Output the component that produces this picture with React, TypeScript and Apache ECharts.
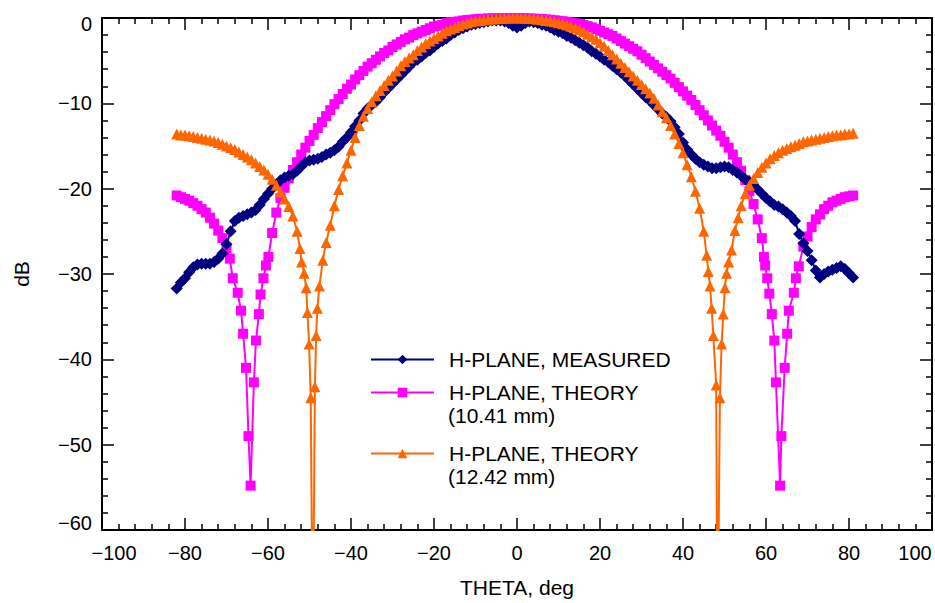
import React, { useEffect, useRef } from 'react';
import * as echarts from 'echarts';

const FONT = '"Liberation Sans", Arial, Helvetica, sans-serif';

const X_TICKS = { min: -100, max: 100, interval: 20 };
const Y_TICKS = { min: -60, max: 0, interval: 10 };

const NAME_MEASURED = 'H-PLANE, MEASURED';
const NAME_T1 = 'H-PLANE, THEORY (10.41 mm)';
const NAME_T2 = 'H-PLANE, THEORY (12.42 mm)';

// [theta deg, dB]
const measured: number[][] = [
  [-82,-31.7],[-81,-31.0],[-80,-30.5],[-79,-29.8],[-78,-29.2],[-77,-28.9],[-76,-28.8],[-75,-28.8],[-74,-28.8],[-73,-28.6],
  [-72,-28.2],[-71,-27.6],[-70,-26.5],[-69,-25.0],[-68,-23.8],[-67,-23.4],[-66,-23.2],[-65,-23.0],[-64,-22.8],[-63,-22.5],
  [-62,-21.9],[-61,-21.2],[-60,-20.6],[-59,-20.0],[-58,-19.5],[-57,-19.0],[-56,-18.7],[-55,-18.5],[-54,-18.3],[-53,-17.9],
  [-52,-17.4],[-51,-16.9],[-50,-16.7],[-49,-16.6],[-48,-16.5],[-47,-16.3],[-46,-16.0],[-45,-15.8],[-44,-15.5],[-43,-15.1],
  [-42,-14.5],[-41,-14.0],[-40,-13.4],[-39,-12.7],[-38,-12.0],[-37,-11.2],[-36,-10.6],[-35,-10.2],[-34,-9.8],[-33,-9.3],
  [-32,-8.7],[-31,-8.2],[-30,-7.7],[-29,-7.2],[-28,-6.7],[-27,-6.2],[-26,-5.7],[-25,-5.2],[-24,-4.9],[-23,-4.5],
  [-22,-4.1],[-21,-3.8],[-20,-3.4],[-19,-3.0],[-18,-2.7],[-17,-2.4],[-16,-2.0],[-15,-1.7],[-14,-1.4],[-13,-1.2],
  [-12,-1.0],[-11,-0.8],[-10,-0.7],[-9,-0.6],[-8,-0.5],[-7,-0.4],[-6,-0.3],[-5,-0.3],[-4,-0.3],[-3,-0.4],
  [-2,-0.6],[-1,-0.9],[0,-1.1],[1,-0.9],[2,-0.6],[3,-0.4],[4,-0.5],[5,-0.6],[6,-0.8],[7,-0.9],
  [8,-1.1],[9,-1.4],[10,-1.6],[11,-1.8],[12,-2.1],[13,-2.3],[14,-2.6],[15,-2.9],[16,-3.2],[17,-3.5],
  [18,-3.9],[19,-4.2],[20,-4.5],[21,-4.9],[22,-5.2],[23,-5.6],[24,-6.0],[25,-6.4],[26,-6.8],[27,-7.3],
  [28,-7.8],[29,-8.3],[30,-8.8],[31,-9.3],[32,-9.7],[33,-10.2],[34,-10.7],[35,-11.2],[36,-11.6],[37,-12.1],
  [38,-12.8],[39,-13.6],[40,-14.6],[41,-15.4],[42,-16.0],[43,-16.5],[44,-16.9],[45,-17.2],[46,-17.4],[47,-17.6],
  [48,-17.6],[49,-17.5],[50,-17.4],[51,-17.5],[52,-17.8],[53,-18.1],[54,-18.5],[55,-18.9],[56,-19.2],[57,-19.6],
  [58,-20.1],[59,-20.6],[60,-21.1],[61,-21.5],[62,-21.9],[63,-22.1],[64,-22.4],[65,-22.8],[66,-23.2],[67,-23.8],
  [68,-25.3],[69,-26.4],[70,-27.3],[71,-28.4],[72,-29.6],[73,-30.4],[74,-30.0],[75,-29.7],[76,-29.5],[77,-29.3],
  [78,-29.1],[79,-29.4],[80,-29.9],[81,-30.4],
];

const theory1041: number[][] = [
  [-82,-20.8],[-81,-21.0],[-80,-21.2],[-79,-21.4],[-78,-21.7],[-77,-22.0],[-76,-22.4],[-75,-22.8],[-74,-23.4],[-73,-24.1],
  [-72,-24.9],[-71,-25.8],[-70,-27.0],[-69.2,-28.2],[-68.5,-30.5],[-67.3,-32.2],[-66.5,-34.3],[-66.0,-37.0],[-65.3,-41.0],
  [-64.7,-49.0],[-64.2,-54.8],[-63.4,-42.7],[-62.9,-37.8],[-62.2,-34.7],[-61.8,-32.4],[-61.1,-30.5],[-60.5,-29.0],[-59.9,-28.0],
  [-59,-25.2],[-58,-22.8],[-57,-21.1],[-56,-19.9],[-55,-18.8],[-54,-17.8],[-53,-16.9],[-52,-16.0],[-51,-15.2],[-50,-14.4],
  [-49,-13.7],[-48,-12.9],[-47,-12.2],[-46,-11.5],[-45,-10.8],[-44,-10.1],[-43,-9.5],[-42,-8.9],[-41,-8.3],[-40,-7.8],
  [-39,-7.2],[-38,-6.7],[-37,-6.2],[-36,-5.7],[-35,-5.3],[-34,-4.9],[-33,-4.5],[-32,-4.1],[-31,-3.8],[-30,-3.4],
  [-29,-3.1],[-28,-2.8],[-27,-2.5],[-26,-2.3],[-25,-2.0],[-24,-1.8],[-23,-1.6],[-22,-1.4],[-21,-1.2],[-20,-1.0],
  [-19,-0.9],[-18,-0.8],[-17,-0.6],[-16,-0.5],[-15,-0.45],[-14,-0.4],[-13,-0.3],[-12,-0.25],[-11,-0.2],[-10,-0.15],
  [-9,-0.1],[-8,-0.1],[-7,-0.05],[-6,-0.05],[-5,-0.03],[-4,-0.02],[-3,-0.01],[-2,0],[-1,0],[0,-0.01],
  [1,-0.02],[2,-0.03],[3,-0.05],[4,-0.07],[5,-0.1],[6,-0.13],[7,-0.17],[8,-0.21],[9,-0.26],[10,-0.32],
  [11,-0.38],[12,-0.45],[13,-0.53],[14,-0.62],[15,-0.72],[16,-0.83],[17,-0.95],[18,-1.1],[19,-1.3],[20,-1.5],
  [21,-1.7],[22,-1.9],[23,-2.1],[24,-2.4],[25,-2.7],[26,-3.0],[27,-3.3],[28,-3.6],[29,-3.9],[30,-4.3],
  [31,-4.7],[32,-5.1],[33,-5.5],[34,-5.9],[35,-6.3],[36,-6.7],[37,-7.1],[38,-7.6],[39,-8.1],[40,-8.6],
  [41,-9.1],[42,-9.6],[43,-10.2],[44,-10.8],[45,-11.4],[46,-12.0],[47,-12.6],[48,-13.2],[49,-13.8],[50,-14.5],
  [51,-15.2],[52,-16.0],[53,-16.9],[54,-17.9],[55,-19.0],[56,-20.3],[57,-21.8],[58,-23.6],[59,-25.8],
  [59.5,-28.0],[59.8,-29.0],[60.3,-30.5],[60.8,-32.3],[61.4,-34.7],[62.0,-37.8],[62.4,-42.7],[63.4,-54.8],
  [63.7,-49.0],[64.5,-41.0],[65.1,-37.0],[65.5,-34.3],[66.7,-32.2],[67.2,-30.5],[67.9,-29.1],
  [69,-26.8],[70,-25.6],[71,-24.5],[72,-23.6],[73,-23.0],[74,-22.4],[75,-22.0],[76,-21.6],[77,-21.4],[78,-21.2],
  [79,-21.0],[80,-20.9],[81,-20.8],
];

const theory1242: number[][] = [
  [-82,-13.6],[-81,-13.7],[-80,-13.7],[-79,-13.8],[-78,-13.9],[-77,-14.0],[-76,-14.1],[-75,-14.2],[-74,-14.3],[-73,-14.4],
  [-72,-14.6],[-71,-14.8],[-70,-15.0],[-69,-15.2],[-68,-15.4],[-67,-15.7],[-66,-16.0],[-65,-16.3],[-64,-16.6],[-63,-17.0],
  [-62,-17.4],[-61,-17.8],[-60,-18.3],[-59,-18.9],[-58,-19.6],[-57,-20.4],[-56,-21.2],[-55,-22.1],[-54,-23.2],[-53,-25.0],
  [-52.3,-27.0],[-51.9,-28.6],[-51.3,-29.9],[-50.8,-31.6],[-50.5,-34.5],[-50.1,-38.2],[-49.7,-44.5],[-49.2,-75],
  [-48.7,-43.2],[-48.4,-37.2],[-48.1,-34.0],[-47.6,-31.4],[-46.8,-28.4],[-46,-26.3],[-45,-24.3],[-44,-22.0],[-43,-20.1],
  [-42,-18.5],[-41,-17.0],[-40,-15.5],[-39,-14.0],[-38,-12.6],[-37,-11.5],[-36,-10.6],[-35,-9.8],[-34,-9.1],[-33,-8.5],
  [-32,-7.9],[-31,-7.3],[-30,-6.8],[-29,-6.2],[-28,-5.6],[-27,-5.1],[-26,-4.7],[-25,-4.3],[-24,-3.8],[-23,-3.4],
  [-22,-3.0],[-21,-2.7],[-20,-2.4],[-19,-2.1],[-18,-1.8],[-17,-1.5],[-16,-1.3],[-15,-1.1],[-14,-0.9],[-13,-0.7],
  [-12,-0.6],[-11,-0.45],[-10,-0.35],[-9,-0.28],[-8,-0.22],[-7,-0.16],[-6,-0.11],[-5,-0.08],[-4,-0.05],[-3,-0.03],
  [-2,-0.01],[-1,0],[0,0],[1,-0.01],[2,-0.03],[3,-0.06],[4,-0.1],[5,-0.15],[6,-0.21],[7,-0.28],
  [8,-0.36],[9,-0.45],[10,-0.56],[11,-0.68],[12,-0.82],[13,-0.98],[14,-1.15],[15,-1.35],[16,-1.6],[17,-1.9],
  [18,-2.2],[19,-2.5],[20,-2.9],[21,-3.3],[22,-3.8],[23,-4.3],[24,-4.8],[25,-5.3],[26,-5.8],[27,-6.3],
  [28,-6.8],[29,-7.3],[30,-7.8],[31,-8.3],[32,-8.8],[33,-9.4],[34,-10.2],[35,-11.0],[36,-11.7],[37,-12.6],
  [38,-13.6],[39,-14.7],[40,-15.8],[41,-17.2],[42,-18.6],[43,-20.3],[44,-22.3],[45,-25.0],
  [45.7,-27.8],[46.1,-29.7],[46.5,-31.4],[46.9,-34.0],[47.3,-37.2],[48.0,-43.0],[48.3,-75],
  [48.9,-44.5],[49.3,-38.2],[49.7,-34.7],[50.1,-31.6],[50.5,-29.9],[51.0,-28.6],[51.7,-27.2],[52.5,-24.9],[53.3,-23.4],
  [54,-22.0],[55,-20.6],[56,-19.6],[57,-18.8],[58,-18.1],[59,-17.5],[60,-17.0],[61,-16.5],[62,-16.1],[63,-15.8],
  [64,-15.5],[65,-15.3],[66,-15.1],[67,-14.9],[68,-14.7],[69,-14.5],[70,-14.4],[71,-14.3],[72,-14.2],[73,-14.1],
  [74,-14.0],[75,-13.9],[76,-13.8],[77,-13.7],[78,-13.7],[79,-13.6],[80,-13.6],[81,-13.5],
];

const COLORS = { measured: '#000080', t1: '#ff00ff', t2: '#ff6600' };

const minus = (v: number) => String(v).replace('-', '\u2212');

const labelBase = { fontSize: 20, fontFamily: FONT, color: '#000' };

const tickStyle = { color: '#000', width: 1.5 };
const axisLineStyle = { color: '#000', width: 2 };

function buildOption() {
  const xCommon = {
    type: 'value' as const,
    min: X_TICKS.min,
    max: X_TICKS.max,
    interval: X_TICKS.interval,
    splitLine: { show: false },
    axisLine: { show: true, onZero: false, lineStyle: axisLineStyle },
    axisTick: { show: true, inside: true, length: 12, lineStyle: tickStyle },
    minorTick: { show: true, splitNumber: 5, length: 6, lineStyle: tickStyle },
    minorSplitLine: { show: false },
  };
  const yCommon = {
    type: 'value' as const,
    min: Y_TICKS.min,
    max: Y_TICKS.max,
    interval: Y_TICKS.interval,
    splitLine: { show: false },
    axisLine: { show: true, onZero: false, lineStyle: axisLineStyle },
    axisTick: { show: true, inside: true, length: 12, lineStyle: tickStyle },
    minorTick: { show: true, splitNumber: 5, length: 6, lineStyle: tickStyle },
    minorSplitLine: { show: false },
  };

  const legendBase = (name: string, top: number) => ({
    data: [name],
    left: 370,
    top,
    orient: 'vertical',
    padding: 0,
    itemWidth: 63,
    itemHeight: 12,
    selectedMode: false,
    formatter: (n: string) => n.replace(/ \(.*\)$/, ''),
    textStyle: { fontSize: 21, lineHeight: 19, fontFamily: FONT, color: '#000', padding: [0, 0, 0, 10] },
  });

  const subLabel = (name: string) => (name.match(/\(.*\)$/) || [''])[0];

  const lineSeries = (name: string, data: number[][], color: string, symbol: string, size: number) => ({
    name,
    type: 'line',
    data,
    symbol,
    symbolSize: size,
    clip: true,
    lineStyle: { color, width: 2 },
    itemStyle: { color },
    emphasis: { disabled: true },
    silent: true,
  });

  return {
    animation: false,
    backgroundColor: '#fff',
    grid: { left: 102, right: 3, top: 18, bottom: 66, containLabel: false },
    xAxis: [
      {
        ...xCommon,
        position: 'bottom',
        name: 'THETA, deg',
        nameLocation: 'middle',
        nameGap: 47,
        nameTextStyle: { fontSize: 21, fontFamily: FONT, color: '#000' },
        axisLabel: {
          ...labelBase,
          margin: 13,
          showMinLabel: true,
          showMaxLabel: true,
          formatter: (v: number) => {
            const s = minus(v);
            if (v === X_TICKS.min) return '{l|' + s + '}';
            if (v === X_TICKS.max) return '{r|' + s + '}';
            return s;
          },
          rich: {
            l: { ...labelBase, padding: [0, 0, 0, 24] },
            r: { ...labelBase, padding: [0, 34, 0, 0] },
          },
        },
      },
      { ...xCommon, position: 'top', axisLabel: { show: false } },
    ],
    yAxis: [
      {
        ...yCommon,
        position: 'left',
        name: 'dB',
        nameLocation: 'middle',
        nameGap: 70,
        nameRotate: 90,
        nameTextStyle: { fontSize: 21, fontFamily: FONT, color: '#000' },
        axisLabel: {
          ...labelBase,
          margin: 10,
          showMinLabel: true,
          showMaxLabel: true,
          formatter: (v: number) => {
            const s = minus(v);
            if (v === Y_TICKS.max) return '{t|' + s + '}';
            if (v === Y_TICKS.min) return '{b|' + s + '}';
            return s;
          },
          rich: {
            t: { ...labelBase, padding: [12, 0, 0, 0] },
            b: { ...labelBase, padding: [0, 0, 14, 0] },
          },
        },
      },
      { ...yCommon, position: 'right', axisLabel: { show: false } },
    ],
    legend: [
      legendBase(NAME_MEASURED, 349),
      legendBase(NAME_T1, 382),
      legendBase(NAME_T2, 443),
    ],
    graphic: [
      {
        type: 'text',
        x: 448,
        y: 415,
        silent: true,
        style: { text: subLabel(NAME_T1), fontSize: 21, lineHeight: 19, fontFamily: FONT, fill: '#000', verticalAlign: 'middle' },
      },
      {
        type: 'text',
        x: 448,
        y: 476,
        silent: true,
        style: { text: subLabel(NAME_T2), fontSize: 21, lineHeight: 19, fontFamily: FONT, fill: '#000', verticalAlign: 'middle' },
      },
    ],
    series: [
      lineSeries(NAME_T1, theory1041, COLORS.t1, 'rect', 10),
      lineSeries(NAME_MEASURED, measured, COLORS.measured, 'diamond', 12),
      lineSeries(NAME_T2, theory1242, COLORS.t2, 'triangle', 11),
    ],
  };
}

export default function App() {
  const ref = useRef<HTMLDivElement>(null);
  useEffect(() => {
    if (!ref.current) return;
    const chart = echarts.init(ref.current, null, { renderer: 'svg' });
    chart.setOption(buildOption() as any);
    return () => {
      chart.dispose();
    };
  }, []);
  return (
    <div
      ref={ref}
      style={{ position: 'absolute', left: 0, top: 0, width: 935, height: 603, background: '#fff' }}
    />
  );
}
